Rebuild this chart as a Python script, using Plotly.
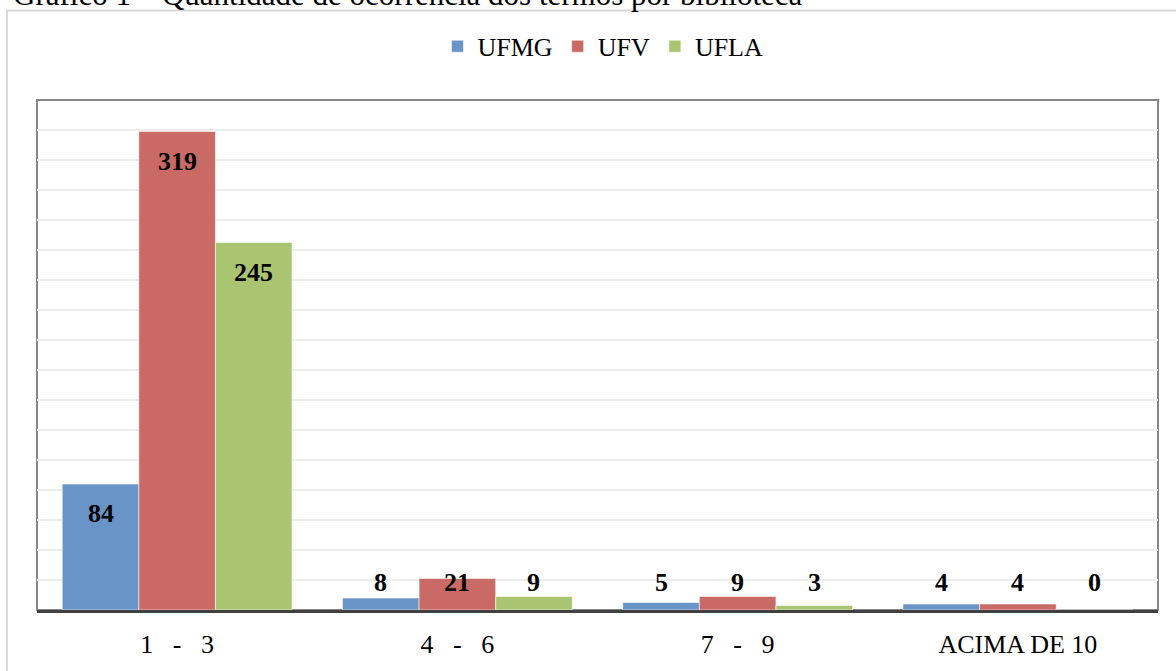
import plotly.graph_objects as go

categories = ["1\u00a0\u00a0\u00a0-\u00a0\u00a0\u00a03", "4\u00a0\u00a0\u00a0-\u00a0\u00a0\u00a06",
              "7\u00a0\u00a0\u00a0-\u00a0\u00a0\u00a09", "ACIMA DE 10"]
ufmg = [84, 8, 5, 4]
ufv = [319, 21, 9, 4]
ufla = [245, 9, 3, 0]
series_names = ["UFMG", "UFV", "UFLA"]
colors = ["#6994C7", "#C96A67", "#AAC572"]
title_text = "Gráfico 1 – Quantidade de ocorrência dos termos por biblioteca"

W, H = 1176, 671
ML, MR, MT, MB = 37, 18, 100, 58
pw = W - ML - MR
ph = H - MT - MB
FONT = "Liberation Serif, Times New Roman, serif"
bargap = 0.18

fig = go.Figure()
all_series = [ufmg, ufv, ufla]
for name, vals, col in zip(series_names, all_series, colors):
    fig.add_trace(go.Bar(
        x=categories, y=vals, name=name,
        marker=dict(color=col, line=dict(color="rgba(255,255,255,0.55)", width=1)),
    ))

# data labels
cat_px = pw / len(categories)
bar_px = cat_px * (1 - bargap) / 3
ymax = 340
units_per_px = ymax / ph
annotations = []
for i, vals in enumerate(all_series):
    for c, v in zip(categories, vals):
        y = max(v - 30 * units_per_px, 28 * units_per_px)
        annotations.append(dict(
            x=c, y=y, xref="x", yref="y", text=f"<b>{v}</b>", showarrow=False,
            xshift=(i - 1) * bar_px, yanchor="middle",
            font=dict(family=FONT, size=26, color="#000000"),
        ))

# title (partially cropped at top of the picture)
annotations.append(dict(
    x=(11 - ML) / pw, y=(ph + MT + 6) / ph, xref="paper", yref="paper",
    text=title_text, showarrow=False, xanchor="left", yanchor="middle",
    font=dict(family=FONT, size=31, color="#000000"),
))

shapes = [
    # outer chart border
    dict(type="rect", xref="paper", yref="paper",
         x0=(7 - ML) / pw, x1=(W + 10 - ML) / pw,
         y0=-(H + 10 - ph - MT) / ph, y1=(ph + MT - 10) / ph,
         line=dict(color="#D9D9D9", width=2), fillcolor="rgba(0,0,0,0)", layer="below"),
    # plot frame
    dict(type="rect", xref="paper", yref="paper", x0=0, x1=1, y0=0, y1=1,
         line=dict(color="#868686", width=2), fillcolor="rgba(0,0,0,0)", layer="below"),
]

fig.update_layout(
    width=W, height=H,
    margin=dict(l=ML, r=MR, t=MT, b=MB),
    paper_bgcolor="white", plot_bgcolor="white",
    barmode="group", bargap=bargap, bargroupgap=0,
    font=dict(family=FONT, size=26, color="#000000"),
    legend=dict(orientation="h", x=(603 - ML) / pw, xanchor="center",
                y=(ph + MT - 46) / ph, yanchor="middle",
                font=dict(family=FONT, size=26), itemwidth=30,
                bgcolor="rgba(0,0,0,0)"),
    annotations=annotations,
    shapes=shapes,
    xaxis=dict(showline=True, linecolor="#404040", linewidth=3,
               ticks="outside", ticklen=9, tickcolor="rgba(0,0,0,0)",
               tickfont=dict(family=FONT, size=26, color="#000000"),
               showgrid=False, fixedrange=True),
    yaxis=dict(range=[0, ymax], dtick=20, showticklabels=False, showgrid=True,
               gridcolor="#EDEDED", gridwidth=1.5, zeroline=False, showline=False,
               fixedrange=True),
)

fig.write_html("out.html", config={"displayModeBar": False},
               post_script="document.body.style.margin='0px';")
